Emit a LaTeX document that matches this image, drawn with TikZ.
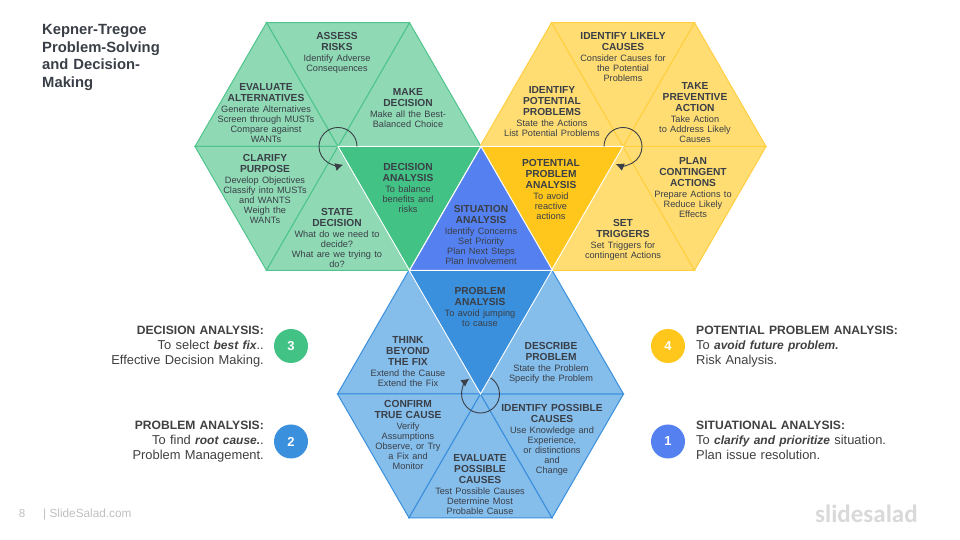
\documentclass[tikz,border=0pt]{standalone}
\usepackage{fontspec}
\setmainfont{Liberation Sans}
\newfontfamily\logofont{Carlito}
\usetikzlibrary{arrows.meta}
\definecolor{txtdark}{HTML}{3A3F47}
\definecolor{txtlabel}{HTML}{404040}
\definecolor{greenlight}{HTML}{8FDAB5}
\definecolor{greenline}{HTML}{4FC48C}
\definecolor{greendark}{HTML}{43C285}
\definecolor{yellowlight}{HTML}{FFDD73}
\definecolor{yellowline}{HTML}{FFCF40}
\definecolor{yellowdark}{HTML}{FFC71C}
\definecolor{bluelight}{HTML}{85BDEB}
\definecolor{blueline}{HTML}{3A90DC}
\definecolor{bluedark}{HTML}{3A90DC}
\definecolor{situblue}{HTML}{5580F0}
\newcommand{\kt}[2]{{\fontsize{10.2}{11.3}\selectfont\bfseries #1\par}\vspace{1pt}{\fontsize{9.2}{10}\selectfont #2\par}}
\newcommand{\hd}[1]{{\fontsize{12.1}{14.7}\selectfont\bfseries #1}}
\newcommand{\hl}[1]{{\fontsize{12}{14.7}\selectfont\bfseries\itshape #1}}
\tikzset{
  part/.style={text=txtdark, text width=140pt, align=center, inner sep=0pt, anchor=north, yshift=-1pt},
  dot/.style={circle, minimum size=34pt, inner sep=0pt, text=white, font=\fontsize{13}{13}\selectfont\bfseries},
  lab/.style={text=txtlabel, inner sep=0pt, text width=240pt, font=\fontsize{12.9}{14.7}\selectfont},
  turn/.style={-{Latex[length=8pt,width=8pt]}, draw=txtdark, line width=0.9pt}
}
\begin{document}
\begin{tikzpicture}[x=1pt,y=1pt]
  \useasboundingbox (0,0) rectangle (960,540);
  \coordinate (gc) at (338,393.5);
  \coordinate (yc) at (623,393.5);
  \coordinate (bc) at (480.5,146);
  % light wedges
  \foreach \a in {0,60,120,180,240}
    \filldraw[fill=greenlight, draw=greenline, line width=1pt] (gc) -- ([shift={(\a:143)}]gc) -- ([shift={(\a+60:143)}]gc) -- cycle;
  \foreach \a in {-120,-60,0,60,120}
    \filldraw[fill=yellowlight, draw=yellowline, line width=1pt] (yc) -- ([shift={(\a:143)}]yc) -- ([shift={(\a+60:143)}]yc) -- cycle;
  \foreach \a in {120,180,240,300,0}
    \filldraw[fill=bluelight, draw=blueline, line width=1pt] (bc) -- ([shift={(\a:143)}]bc) -- ([shift={(\a+60:143)}]bc) -- cycle;
  % dark wedges
  \filldraw[fill=greendark, draw=white, line width=1pt] (gc) -- ([shift={(0:143)}]gc) -- ([shift={(-60:143)}]gc) -- cycle;
  \filldraw[fill=yellowdark, draw=white, line width=1pt] (yc) -- ([shift={(180:143)}]yc) -- ([shift={(240:143)}]yc) -- cycle;
  \filldraw[fill=bluedark, draw=white, line width=1pt] (bc) -- ([shift={(60:143)}]bc) -- ([shift={(120:143)}]bc) -- cycle;
  \filldraw[fill=situblue, draw=white, line width=1pt] (481,393.5) -- ([shift={(-60:143)}]481,393.5) -- ([shift={(-120:143)}]481,393.5) -- cycle;
  % turning arrows
  \draw[turn] ([shift={(0:19)}]gc) arc[start angle=0, delta angle=286, radius=19];
  \draw[turn] ([shift={(180:19)}]yc) arc[start angle=180, delta angle=-292, radius=19];
  \draw[turn] ([shift={(58:19)}]bc) arc[start angle=58, delta angle=-292, radius=19];
  % title
  \node (title) [text=txtdark, text width=130pt, inner sep=0pt, anchor=north west, font=\fontsize{14.8}{17.5}\selectfont\bfseries] at (42,515.5) {Kepner-Tregoe\\Problem-Solving\\and Decision-\\Making};
  % green hexagon
  \node (assess) [part] at (337,509) {\kt{ASSESS\\RISKS}{Identify Adverse\\Consequences}};
  \node (evaluate) [part] at (266,458) {\kt{EVALUATE\\ALTERNATIVES}{Generate Alternatives\\Screen through MUSTs\\Compare against\\WANTs}};
  \node (make) [part] at (408,453) {\kt{MAKE\\DECISION}{Make all the Best-\\Balanced Choice}};
  \node (clarify) [part] at (265,387) {\kt{CLARIFY\\PURPOSE}{Develop Objectives\\Classify into MUSTs\\and WANTS\\Weigh the\\WANTs}};
  \node (state) [part] at (337,333) {\kt{STATE\\DECISION}{What do we need to\\decide?\\What are we trying to\\do?}};
  \node (decision) [part] at (408,378) {\kt{DECISION\\ANALYSIS}{To balance\\benefits and\\risks}};
  % centre
  \node (situation) [part] at (481,336) {\kt{SITUATION\\ANALYSIS}{Identify Concerns\\Set Priority\\Plan Next Steps\\Plan Involvement}};
  % yellow hexagon
  \node (likely) [part] at (623,509) {\kt{IDENTIFY LIKELY\\CAUSES}{Consider Causes for\\the Potential\\Problems}};
  \node (identify) [part] at (552,455) {\kt{IDENTIFY\\POTENTIAL\\PROBLEMS}{State the Actions\\List Potential Problems}};
  \node (prevent) [part] at (695,459) {\kt{TAKE\\PREVENTIVE\\ACTION}{Take Action\\to Address Likely\\Causes}};
  \node (plan) [part] at (693,384) {\kt{PLAN\\CONTINGENT\\ACTIONS}{Prepare Actions to\\Reduce Likely\\Effects}};
  \node (triggers) [part] at (623,322) {\kt{SET\\TRIGGERS}{Set Triggers for\\contingent Actions}};
  \node (potential) [part] at (551,382) {\kt{POTENTIAL\\PROBLEM\\ANALYSIS}{To avoid\\reactive\\actions}};
  % blue hexagon
  \node (problem) [part] at (480,254) {\kt{PROBLEM\\ANALYSIS}{To avoid jumping\\to cause}};
  \node (think) [part] at (408,205) {\kt{THINK\\BEYOND\\THE FIX}{Extend the Cause\\Extend the Fix}};
  \node (describe) [part] at (551,199) {\kt{DESCRIBE\\PROBLEM}{State the Problem\\Specify the Problem}};
  \node (confirm) [part] at (408,141) {\kt{CONFIRM\\TRUE CAUSE}{Verify\\Assumptions\\Observe, or Try\\a Fix and\\Monitor}};
  \node (possible) [part] at (552,137) {\kt{IDENTIFY POSSIBLE\\CAUSES}{Use Knowledge and\\Experience,\\or distinctions\\and\\Change}};
  \node (causes) [part] at (480,87) {\kt{EVALUATE\\POSSIBLE\\CAUSES}{Test Possible Causes\\Determine Most\\Probable Cause}};
  % numbered dots
  \node (dot3) [dot, fill=greendark] at (291,194) {3};
  \node (dot2) [dot, fill=bluedark] at (291,98.5) {2};
  \node (dot4) [dot, fill=yellowdark] at (668,194) {4};
  \node (dot1) [dot, fill=situblue] at (668,98.5) {1};
  % side labels
  \node (lab3) [lab, align=right, anchor=north east] at (264,214) {\hd{DECISION ANALYSIS:}\\To select \hl{best fix}..\\Effective Decision Making.};
  \node (lab2) [lab, align=right, anchor=north east] at (264,119) {\hd{PROBLEM ANALYSIS:}\\To find \hl{root cause.}.\\Problem Management.};
  \node (lab4) [lab, align=left, anchor=north west] at (696,214) {\hd{POTENTIAL PROBLEM ANALYSIS:}\\To \hl{avoid future problem.}\\Risk Analysis.};
  \node (lab1) [lab, align=left, anchor=north west] at (696,119) {\hd{SITUATIONAL ANALYSIS:}\\To \hl{clarify and prioritize} situation.\\Plan issue resolution.};
  % footer
  \node (page) [text=black!25, inner sep=0pt, font=\fontsize{11.5}{12}\selectfont] at (22,26) {8};
  \node (site) [text=black!25, inner sep=0pt, anchor=west, font=\fontsize{11.8}{12}\selectfont] at (43,26) {| SlideSalad.com};
  \node (logo) [text=black!15, inner sep=0pt, anchor=west, font=\logofont\fontsize{25}{25}\selectfont\bfseries] at (815,26) {slidesalad};
\end{tikzpicture}
\end{document}
